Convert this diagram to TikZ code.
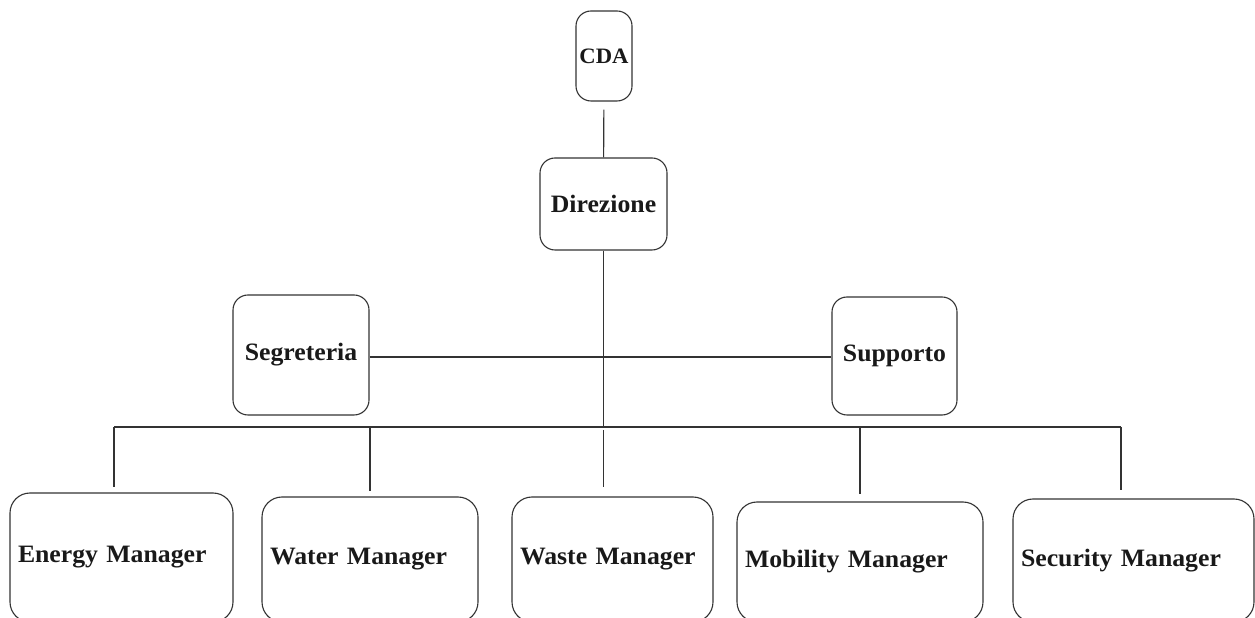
\documentclass[tikz,border=0pt]{standalone}
\usepackage{fontspec}
\setmainfont{Liberation Serif}[FakeStretch=1.03]
\usepackage{tikz}
\usetikzlibrary{positioning,calc}

\begin{document}
\begin{tikzpicture}[x=1pt,y=1pt,
    line width=1.1pt,draw=black!80,
    box/.style={draw=black!80,rounded corners=15pt,inner sep=0pt,
                font=\bfseries\fontsize{25}{29}\selectfont,text=black!90},
    mgr/.style={box,rounded corners=20pt,align=left,inner xsep=8pt,
                minimum height=#1},
    link/.style={draw=black!80,line width=1.1pt}]
  \useasboundingbox (0,0) rectangle (1255,618);

  % vertici
  \node[box,minimum width=56,minimum height=90,
        font=\bfseries\fontsize{22}{26}\selectfont] (cda) at (604,562) {CDA};
  \node[box,minimum width=127,minimum height=92] (dir) at (603.5,414) {Direzione};
  \node[box,minimum width=136,minimum height=120] (seg) at (301,263)  {Segreteria};
  \node[box,minimum width=125,minimum height=118] (sup) at (894.5,262) {Supporto};

  % manager
  \node[mgr=129,text width=207] (energy)   at (121.5,60.5) {Energy Manager};
  \node[mgr=125,text width=200] (water)    at (370,58.5)   {Water Manager};
  \node[mgr=125,text width=185] (waste)    at (612.5,58.5) {Waste Manager};
  \node[mgr=120,text width=230] (mobility) at (860,56)     {Mobility Manager};
  \node[mgr=123,text width=225] (security) at (1133.5,57.5) {Security Manager};

  % bus
  \coordinate (busL) at (114,191);
  \coordinate (busR) at (1121,191);

  \draw[link,shorten <=8pt] (cda) -- (dir);
  \draw[link] (dir) -- (dir.south |- busL);
  \draw[link] (seg.east |- 0,261) -- (sup.west |- 0,261);
  \draw[link] (busL) -- (busR);

  \draw[link,shorten >=5pt] (busL) -- (busL |- energy.north);
  \draw[link,shorten >=5pt] (water.north |- busL) -- (water.north);
  \draw[link,shorten <=3pt,shorten >=9pt] (dir.south |- busL) -- (dir.south |- waste.north);
  \draw[link,shorten >=7pt] (mobility.north |- busL) -- (mobility.north);
  \draw[link,shorten >=8pt] (busR) -- (busR |- security.north);
\end{tikzpicture}
\end{document}
